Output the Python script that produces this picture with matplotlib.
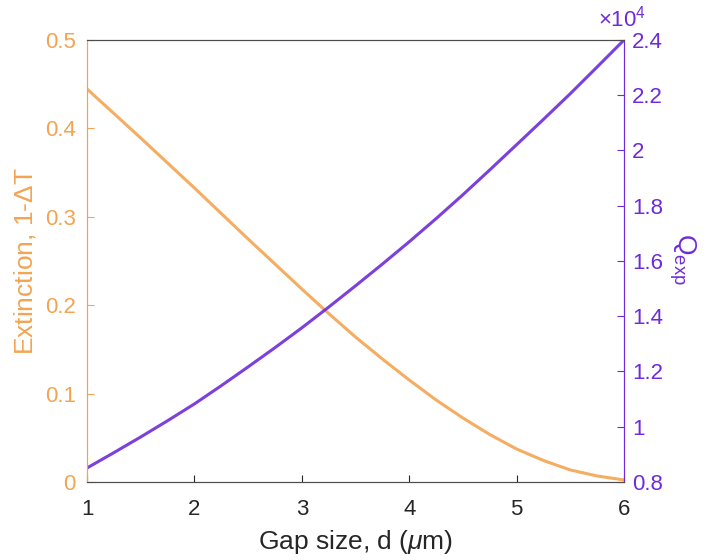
import numpy as np
import matplotlib.pyplot as plt
from matplotlib.ticker import FuncFormatter

plt.rcParams['font.family'] = ['Liberation Sans', 'DejaVu Sans']
plt.rcParams['mathtext.fontset'] = 'custom'
plt.rcParams['mathtext.rm'] = 'Liberation Sans'
plt.rcParams['mathtext.it'] = 'Liberation Sans:italic'

# gap size d (um)
gap = [1.0, 1.25, 1.5, 1.75, 2.0, 2.25, 2.5, 2.75, 3.0, 3.25, 3.5,
       3.75, 4.0, 4.25, 4.5, 4.75, 5.0, 5.25, 5.5, 5.75, 6.0]
# extinction 1 - dT (left axis)
extinction = [0.4446, 0.4169, 0.3891, 0.3609, 0.3326, 0.3037, 0.2749, 0.2466, 0.2183, 0.1906, 0.1640,
              0.1391, 0.1154, 0.0928, 0.0724, 0.0537, 0.0373, 0.0243, 0.0136, 0.0068, 0.0023]
# experimental Q (right axis)
q_exp = [8507, 9062, 9630, 10217, 10826, 11486, 12167, 12862, 13580, 14330, 15101,
         15888, 16696, 17533, 18399, 19297, 20210, 21127, 22058, 23025, 24000]

orange = '#F4A451'
purple = '#6E2BD9'
grey = '#4d4d4d'

fig = plt.figure(figsize=(7.08, 5.6), dpi=100)
ax = fig.add_axes([0.1229, 0.1393, 0.7585, 0.7893])
ax2 = ax.twinx()

ax.plot(gap, extinction, color=orange, lw=2.2, alpha=0.9, solid_joinstyle='round')
ax2.plot(gap, q_exp, color=purple, lw=2.2, alpha=0.9, solid_joinstyle='round')

ax.set_xlim(1, 6)
ax.set_ylim(0, 0.5)
ax2.set_ylim(8000, 24000)
ax.set_xticks([1, 2, 3, 4, 5, 6])
ax.set_yticks([0, 0.1, 0.2, 0.3, 0.4, 0.5])
ax.yaxis.set_major_formatter(FuncFormatter(lambda v, p: f"{v:g}"))
ax2.set_yticks(np.arange(8000, 24001, 2000))
ax2.yaxis.set_major_formatter(FuncFormatter(lambda v, p: f"{v / 1e4:g}"))

for a in (ax, ax2):
    a.spines['top'].set_color(grey)
    a.spines['bottom'].set_color(grey)
    a.spines['left'].set_color(orange)
    a.spines['right'].set_color(purple)

ax.tick_params(axis='x', direction='in', length=5, colors='#262626', labelsize=16, pad=12)
ax.tick_params(axis='y', direction='in', length=5, colors=orange, labelsize=16, pad=8)
ax2.tick_params(axis='y', direction='in', length=5, colors=purple, labelsize=16, pad=6)

ax.set_xlabel('Gap size, d ($\\mu$m)', fontsize=19, color='#262626', labelpad=6)
ax.set_ylabel('Extinction, 1-$\\Delta$T', fontsize=19, color=orange, labelpad=5)
ax2.set_ylabel('Q$_{\\mathrm{exp}}$', fontsize=19, color=purple, rotation=-90)
ax2.yaxis.set_label_coords(1.138, 0.505)

ax2.text(0.952, 1.02, '$\\times$10$^{4}$', transform=ax2.transAxes, fontsize=16,
         color=purple, ha='left', va='bottom')

fig.savefig('out.png', dpi=100)
